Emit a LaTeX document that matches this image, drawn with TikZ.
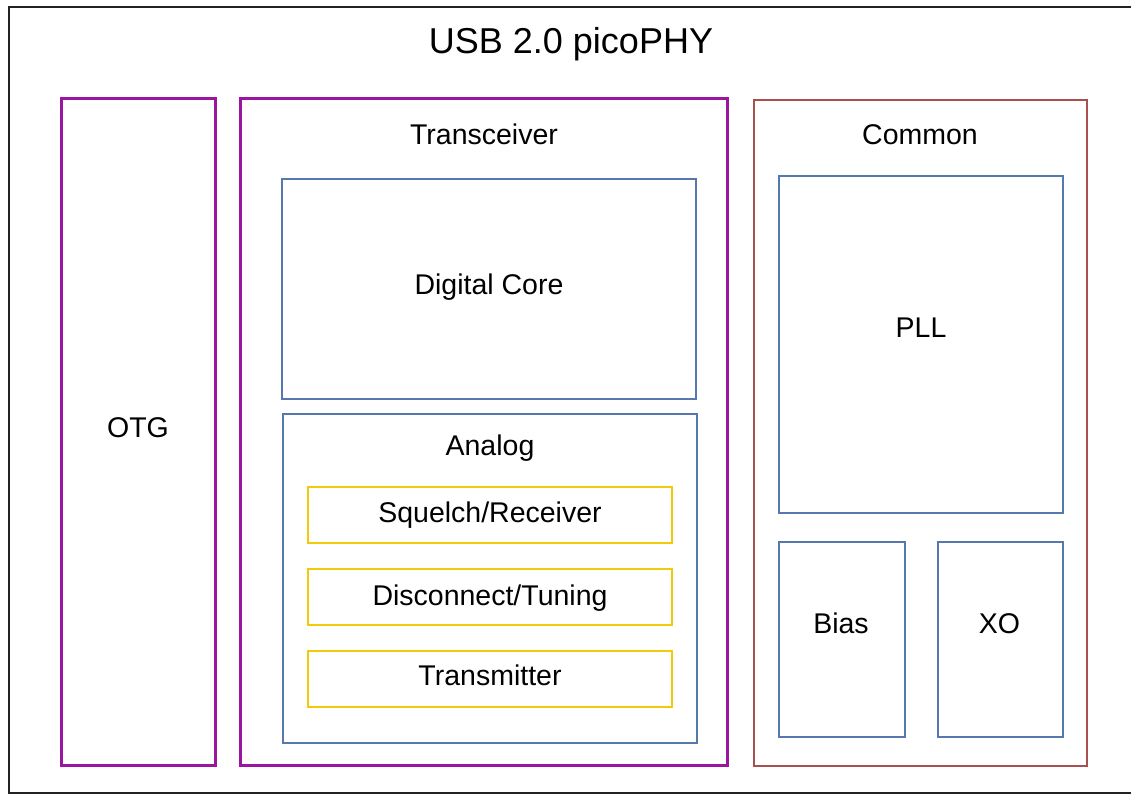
\documentclass[tikz,border=0pt]{standalone}
\usepackage{fontspec}
\setmainfont{Liberation Sans}
\definecolor{ppl}{HTML}{9A16A0}
\definecolor{blu}{HTML}{5578AE}
\definecolor{brn}{HTML}{A9504E}
\definecolor{ylw}{HTML}{F2CA0A}
\definecolor{frm}{HTML}{222222}
\tikzset{
  blk/.style={rectangle, anchor=north west, inner sep=0pt, outer sep=0pt},
  pbox/.style={blk, draw=ppl, line width=3pt},
  bbox/.style={blk, draw=blu, line width=2.6pt},
  rbox/.style={blk, draw=brn, line width=2.6pt},
  ybox/.style={blk, draw=ylw, line width=2.6pt},
  lbl/.style={font=\fontsize{28.5}{34}\selectfont, inner sep=0pt, anchor=base, text=black},
  ttl/.style={font=\fontsize{36}{42}\selectfont, inner sep=0pt, anchor=base, text=black},
}
\begin{document}
\begin{tikzpicture}[x=1pt,y=-1pt]
\useasboundingbox (0,0) rectangle (1131,795);
\clip (0,0) rectangle (1131,795);
\node[blk, draw=frm, line width=2.6pt, minimum width=1140pt, minimum height=786pt] (outer) at (9,7) {};
\node[ttl] (title) at (571,53) {USB 2.0 picoPHY};
% OTG
\node[pbox, minimum width=154pt, minimum height=667pt] (otg) at (61,98) {};
\node[lbl] (otgl) at (138,437) {OTG};
% Transceiver
\node[pbox, minimum width=487pt, minimum height=667pt] (trx) at (240,98) {};
\node[lbl] (trxl) at (484,144.5) {Transceiver};
\node[bbox, minimum width=414pt, minimum height=220pt] (dig) at (282,179) {};
\node[lbl] (digl) at (489,294.5) {Digital Core};
\node[bbox, minimum width=414pt, minimum height=329pt] (ana) at (283,414) {};
\node[lbl] (anal) at (490,455) {Analog};
\node[ybox, minimum width=364pt, minimum height=56pt] (sq) at (308,487) {};
\node[lbl] (sql) at (490,522.5) {Squelch/Receiver};
\node[ybox, minimum width=364pt, minimum height=56pt] (dc) at (308,569) {};
\node[lbl] (dcl) at (490,605) {Disconnect/Tuning};
\node[ybox, minimum width=364pt, minimum height=56pt] (tx) at (308,651) {};
\node[lbl] (txl) at (490,685) {Transmitter};
% Common
\node[rbox, minimum width=333pt, minimum height=666pt] (com) at (754,100) {};
\node[lbl] (coml) at (920,144) {Common};
\node[bbox, minimum width=284pt, minimum height=337pt] (pll) at (779,176) {};
\node[lbl] (plll) at (921,337) {PLL};
\node[bbox, minimum width=126pt, minimum height=195pt] (bias) at (779,542) {};
\node[lbl] (biasl) at (841,633) {Bias};
\node[bbox, minimum width=125pt, minimum height=195pt] (xo) at (938,542) {};
\node[lbl] (xol) at (999.5,633) {XO};
\end{tikzpicture}
\end{document}
